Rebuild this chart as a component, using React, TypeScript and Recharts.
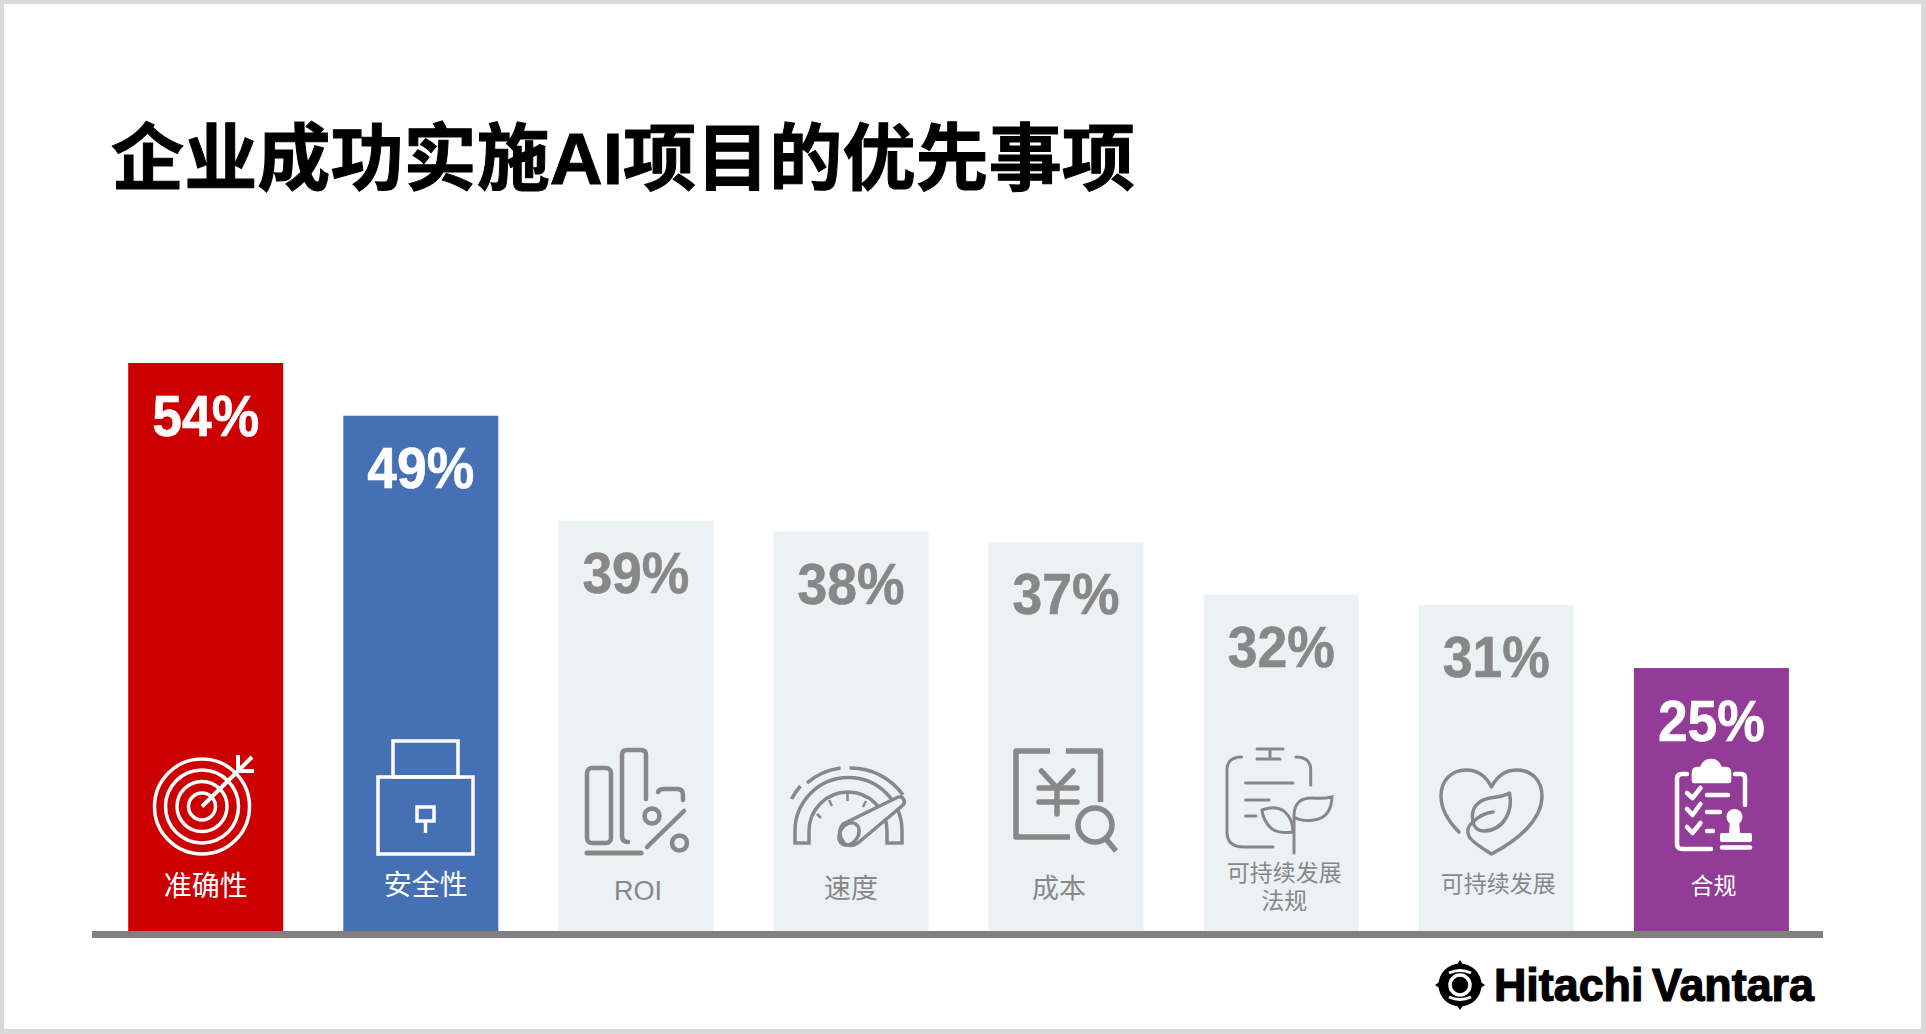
import React from 'react';
import { BarChart, Bar, Cell, XAxis, YAxis, LabelList, ReferenceLine } from 'recharts';

const categories = ['准确性', '安全性', 'ROI', '速度', '成本', '可持续发展 法规', '可持续发展', '合规'];
const values = [54, 49, 39, 38, 37, 32, 31, 25];
const barColors = ['#cc0000', '#4571b4', '#ecf1f4', '#ecf1f4', '#ecf1f4', '#ecf1f4', '#ecf1f4', '#933c97'];
const chartData = categories.map((name, i) => ({ name, value: values[i] }));

const CJK = '"Liberation Sans", "Noto Sans CJK SC", sans-serif';
const GREY = '#888888';
const WHITE = '#ffffff';
const textColor = (i: number) => (barColors[i] === '#ecf1f4' ? GREY : WHITE);

// name label tweaks per bar: offset from bar centre, centre y above the baseline, font size
const nameStyle = [
  { dx: 0, up: 45, size: 28 },
  { dx: 5, up: 46, size: 28 },
  { dx: 2, up: 41, size: 27 },
  { dx: 0, up: 43, size: 27 },
  { dx: -7, up: 43, size: 27 },
  { dx: 3, up: 58, size: 23 },
  { dx: 2, up: 47, size: 23 },
  { dx: 2, up: 45, size: 23 },
];

const boxOf = (p: any) => p.viewBox ?? p;

const PercentLabel = (p: any) => {
  const b = boxOf(p);
  return (
    <text
      x={b.x + b.width / 2}
      y={b.y + 72.5}
      textAnchor="middle"
      fontFamily={CJK}
      fontWeight="bold"
      fontSize={58}
      textLength={107}
      lengthAdjust="spacingAndGlyphs"
      fill={textColor(p.index)}
      stroke={textColor(p.index)}
      strokeWidth={0.6}
    >
      {`${p.value}%`}
    </text>
  );
};

const NameLabel = (p: any) => {
  const b = boxOf(p);
  const s = nameStyle[p.index];
  const cx = b.x + b.width / 2 + s.dx;
  const bottom = b.y + b.height;
  const lines = String(p.value).split(' ');
  return (
    <text textAnchor="middle" fontFamily={CJK} fontSize={s.size} fill={textColor(p.index)}>
      {lines.map((line, k) => (
        <tspan key={k} x={cx} y={bottom - s.up + s.size * 0.36 + k * 28}>
          {line}
        </tspan>
      ))}
    </text>
  );
};

const TargetIcon = () => (
  <g fill="none" stroke={WHITE} strokeWidth={3.5}>
    <circle cx={202} cy={806.5} r={47.5} />
    <circle cx={202} cy={806.5} r={36.5} />
    <circle cx={202} cy={806.5} r={25} />
    <circle cx={202} cy={806.5} r={13.5} />
    <path d="M202 806.5 L238 771 M238 755 V771 H254 M238 771 L252 757" strokeWidth={4} />
  </g>
);

const LockIcon = () => (
  <g fill="none" stroke={WHITE} strokeWidth={3.5}>
    <rect x={378} y={777} width={95} height={77} />
    <rect x={393} y={741} width={65} height={36} />
    <rect x={417} y={807} width={17} height={14} />
    <path d="M425.5 821 V833" />
  </g>
);

const RoiIcon = () => (
  <g fill="none" stroke={GREY} strokeWidth={4.5} strokeLinecap="round">
    <rect x={587} y={768} width={24} height={75} rx={5} />
    <path d="M646 799 V755 Q646 750 641 750 H627 Q622 750 622 755 V836 Q622 842 628 842" />
    <path d="M587 853 H641" strokeWidth={5} />
    <path d="M658 792 Q659 789 664 789 H677 Q683 789 683 795 V800" />
    <path d="M684 811 L647 847" />
    <circle cx={652} cy={816} r={7.5} />
    <circle cx={679.5} cy={843} r={7.5} />
  </g>
);

const GaugeIcon = () => (
  <g fill="none" stroke={GREY} strokeWidth={3.5}>
    <path d="M809 843 H795 V831 A53.5 53.5 0 0 1 902 831 V843 H887 V831 A39 39 0 0 0 809 831 Z" />
    <path d="M791.5 799 A65 65 0 0 1 800.5 786 M807 783 A64 64 0 0 1 840.6 768 M849.6 768 A64 64 0 0 1 903 795" />
    <path d="M847.5 793 V801 M817 814 L821 818 M829 800 L832 806 M866 801 L863 807" strokeWidth={2.5} />
    <path
      d="M843 824 L896 798 Q902 795 904 800 Q905 803 903 805 L858 843 Q850 848 844 843 Q836 833 843 824 Z"
      fill="#ecf1f4"
      strokeLinejoin="round"
    />
    <ellipse cx={849} cy={834} rx={9} ry={12} transform="rotate(35 849 834)" />
  </g>
);

const CostIcon = () => (
  <g fill="none" stroke={GREY} strokeWidth={5.5} strokeLinejoin="round">
    <path d="M1050 751 H1016 V837 H1070" />
    <path d="M1066 751 H1100.5 V802" />
    <path d="M1041.5 771 L1057 788 L1073 771 M1039 788 H1077 M1039 802 H1077 M1057 788 V814" strokeLinecap="round" />
    <circle cx={1095} cy={825} r={17} />
    <path d="M1106 839 L1116 851" />
  </g>
);

const RegulationIcon = () => (
  <g fill="none" stroke={GREY} strokeWidth={3} strokeLinecap="round">
    <path d="M1241.5 757 Q1227 757 1227 770 V832 Q1227 847 1244 847 H1273" />
    <path d="M1296 757 Q1310.7 757 1310.7 770 V785" />
    <path d="M1257 749 H1283 M1270 749 V758 M1257 759 H1280" />
    <path d="M1245.5 783 H1293 M1245.5 800 H1269 M1245.5 816 H1256" />
    <path d="M1294 853 V815 Q1295 797 1313 798 Q1323 799 1332 797 Q1331 818 1314 820 Q1302 822 1294 817" />
    <path d="M1262 810 Q1275 805 1284 811 Q1293 819 1293 832 Q1280 834 1272 829 Q1263 821 1262 810 Z" />
  </g>
);

const HeartIcon = () => (
  <g fill="none" stroke={GREY} strokeWidth={3.5} strokeLinecap="round" strokeLinejoin="round">
    <path d="M1459 832 C1447 820 1441 808 1441 796 C1441 780 1452 770 1466 770 C1477 770 1486 776 1491.5 787 C1497 776 1506 770 1517 770 C1532 770 1542 781 1542 796 C1542 820 1518 840 1491.5 854 C1482 848 1475 844 1470 838 C1466 832 1468 826 1473 822" />
    <path d="M1473 822 C1470 808 1478 800 1490 798 C1498 797 1505 796 1509.5 793 C1513 810 1505 830 1484 831 C1478 831 1474 827 1473 822 C1478 817 1485 813 1493 812" />
  </g>
);

const ComplianceIcon = () => (
  <g fill="none" stroke={WHITE} strokeWidth={4.5} strokeLinecap="round" strokeLinejoin="round">
    <path d="M1687 774 H1682 Q1677 774 1677 779 V844 Q1677 849 1682 849 H1711" />
    <path d="M1735 774 H1741 Q1745 774 1745 778 V805" />
    <path d="M1694 781 V772 Q1694 769 1698 769 H1702 Q1704 761 1711 761 Q1718 761 1720 769 H1725 Q1729 769 1729 772 V781 Z" fill={WHITE} />
    <path d="M1687 793 L1692.5 798 L1700.5 788 M1687 809 L1692.5 815 L1700.5 804 M1687 827 L1692.5 833 L1700.5 823" />
    <path d="M1707 795 H1728 M1707 812 H1720 M1707 831 H1713" />
    <circle cx={1734.5} cy={817} r={8} fill={WHITE} stroke="none" />
    <path d="M1730 820 H1739 L1740 833 H1729 Z" fill={WHITE} stroke="none" />
    <rect x={1720} y={833} width={32} height={9} rx={2} fill={WHITE} stroke="none" />
    <path d="M1722 847.5 H1750" />
  </g>
);

const icons = [TargetIcon, LockIcon, RoiIcon, GaugeIcon, CostIcon, RegulationIcon, HeartIcon, ComplianceIcon];

const IconLabel = (p: any) => {
  const b = boxOf(p);
  const Icon = icons[p.index];
  // icons are drawn in page units, shifted with the bar they belong to
  return (
    <g transform={`translate(${b.x - (128.2 + 215.1 * p.index)},${b.y + b.height - 931})`}>
      <Icon />
    </g>
  );
};

const AxisBar = (p: any) => (
  <rect x={p.x1 - 6.2} y={p.y1} width={p.x2 - p.x1 + 10.2} height={7} fill="#808080" />
);

const Logo = () => (
  <g>
    <path d="M1460 960 L1464 966 H1456 Z M1460 1010 L1464 1004 H1456 Z M1435 985 L1441 981 V989 Z M1485 985 L1479 981 V989 Z" fill="#000" />
    <circle cx={1460} cy={985} r={21.5} fill="#000" />
    <path d="M1449 973 Q1460 968 1471 973 M1449 997 Q1460 1002 1471 997" fill="none" stroke="#fff" strokeWidth={3} />
    <circle cx={1460} cy={985} r={10} fill="none" stroke="#fff" strokeWidth={3.5} />
    <circle cx={1460} cy={985} r={4.5} fill="#000" />
    <text x={1494} y={1001} fontFamily={CJK} fontWeight="bold" fontSize={46} wordSpacing={-4} textLength={320} lengthAdjust="spacingAndGlyphs" fill="#000" stroke="#000" strokeWidth={1.2}>
      Hitachi Vantara
    </text>
  </g>
);

export default function App() {
  return (
    <div style={{ position: 'absolute', left: 0, top: 0, width: 1926, height: 1034, background: '#fff', overflow: 'hidden' }}>
      <BarChart
        width={1926}
        height={1034}
        data={chartData}
        margin={{ top: 300, right: 107, bottom: 103, left: 98.2 }}
        barSize={155}
      >
        <XAxis dataKey="name" hide />
        <YAxis hide domain={[0, 60]} />
        <Bar dataKey="value" isAnimationActive={false}>
          {chartData.map((d, i) => (
            <Cell key={d.name} fill={barColors[i]} />
          ))}
          <LabelList dataKey="value" content={PercentLabel} />
          <LabelList dataKey="name" content={NameLabel} />
          <LabelList dataKey="name" content={IconLabel} />
        </Bar>
        <ReferenceLine y={0} shape={AxisBar} />
      </BarChart>
      <svg width={1926} height={1034} style={{ position: 'absolute', left: 0, top: 0, pointerEvents: 'none' }}>
        <text x={111} y={184} fontFamily={CJK} fontWeight="bold" fontSize={73} textLength={1024} lengthAdjust="spacingAndGlyphs" fill="#000" stroke="#000" strokeWidth={1}>
          企业成功实施AI项目的优先事项
        </text>
        <Logo />
      </svg>
      <div style={{ position: 'absolute', inset: 0, boxSizing: 'border-box', borderStyle: 'solid', borderColor: '#d9d9d9', borderWidth: '4px 5px 5px 4px', pointerEvents: 'none' }} />
    </div>
  );
}
